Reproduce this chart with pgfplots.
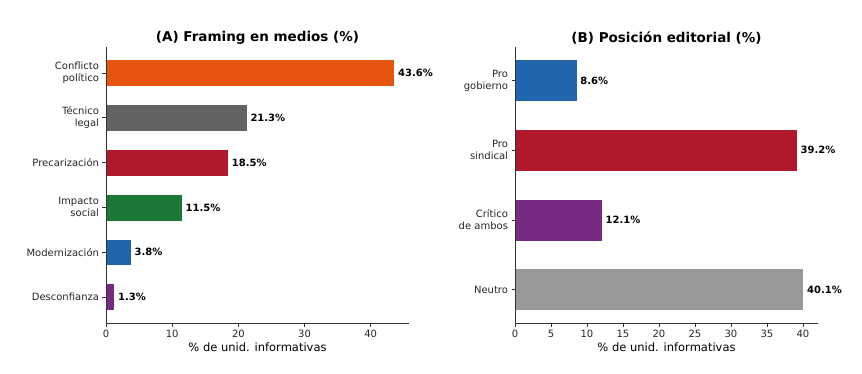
\documentclass[border=0pt]{standalone}
\usepackage{pgfplots}
\pgfplotsset{compat=1.18}
\usepackage{fontspec}
\setmainfont{DejaVu Sans}
\definecolor{cOrange}{HTML}{E6550D}
\definecolor{cDGray}{HTML}{636363}
\definecolor{cRed}{HTML}{B2182B}
\definecolor{cGreen}{HTML}{1B7837}
\definecolor{cBlue}{HTML}{2166AC}
\definecolor{cPurple}{HTML}{762A83}
\definecolor{cLGray}{HTML}{999999}
\definecolor{spine}{HTML}{333333}
\pgfplotsset{
  mybars/.style={
    scale only axis, axis on top,
    xbar, bar shift=0pt, bar width=0.6,
    axis x line*=bottom, axis y line*=left,
    axis line style={spine, line width=0.7pt},
    tick align=outside, major tick length=3.5pt,
    tick style={spine, line width=0.7pt},
    xmin=0,
    /pgf/number format/assume math mode=true,
    tick label style={font=\fontsize{10}{12}\selectfont, text=black!85},
    yticklabel style={align=right},
    xlabel={\% de unid. informativas},
    xlabel style={font=\fontsize{11.5}{13}\selectfont, yshift=2pt},
    title style={font=\bfseries\fontsize{13.5}{15}\selectfont, yshift=-7pt},
    point meta=x,
    nodes near coords={\pgfmathprintnumber[fixed,precision=1,fixed zerofill]{\pgfplotspointmeta}\%},
    nodes near coords style={font=\bfseries\fontsize{10}{12}\selectfont, anchor=west, xshift=0pt, text=black},
    every axis plot/.append style={draw=white, line width=0.4pt},
  }
}
\begin{document}
\begin{tikzpicture}[x=1pt,y=1pt]
\path[use as bounding box] (0,0) rectangle (862,373);
\begin{axis}[mybars,
  at={(106pt,50pt)}, anchor=south west,
  width=303pt, height=276pt,
  xmax=45.78, ymin=-0.58, ymax=5.58,
  xtick={0,10,20,30,40},
  ytick={0,1,2,3,4,5},
  yticklabels={Desconfianza, Modernización, {Impacto\\social}, Precarización, {Técnico\\legal}, {Conflicto\\político}},
  title={(A) Framing en medios (\%)},
]
\addplot[fill=cPurple] coordinates {(1.3,0)};
\addplot[fill=cBlue] coordinates {(3.8,1)};
\addplot[fill=cGreen] coordinates {(11.5,2)};
\addplot[fill=cRed] coordinates {(18.5,3)};
\addplot[fill=cDGray] coordinates {(21.3,4)};
\addplot[fill=cOrange] coordinates {(43.6,5)};
\end{axis}
\begin{axis}[mybars,
  at={(515pt,50pt)}, anchor=south west,
  width=303pt, height=276pt,
  xmax=42.1, ymin=-0.48, ymax=3.48,
  xtick={0,5,...,40},
  ytick={0,1,2,3},
  yticklabels={Neutro, {Crítico\\de ambos}, {Pro\\sindical}, {Pro\\gobierno}},
  title={(B) Posición editorial (\%)},
]
\addplot[fill=cLGray] coordinates {(40.1,0)};
\addplot[fill=cPurple] coordinates {(12.1,1)};
\addplot[fill=cRed] coordinates {(39.2,2)};
\addplot[fill=cBlue] coordinates {(8.6,3)};
\end{axis}
\end{tikzpicture}
\end{document}
